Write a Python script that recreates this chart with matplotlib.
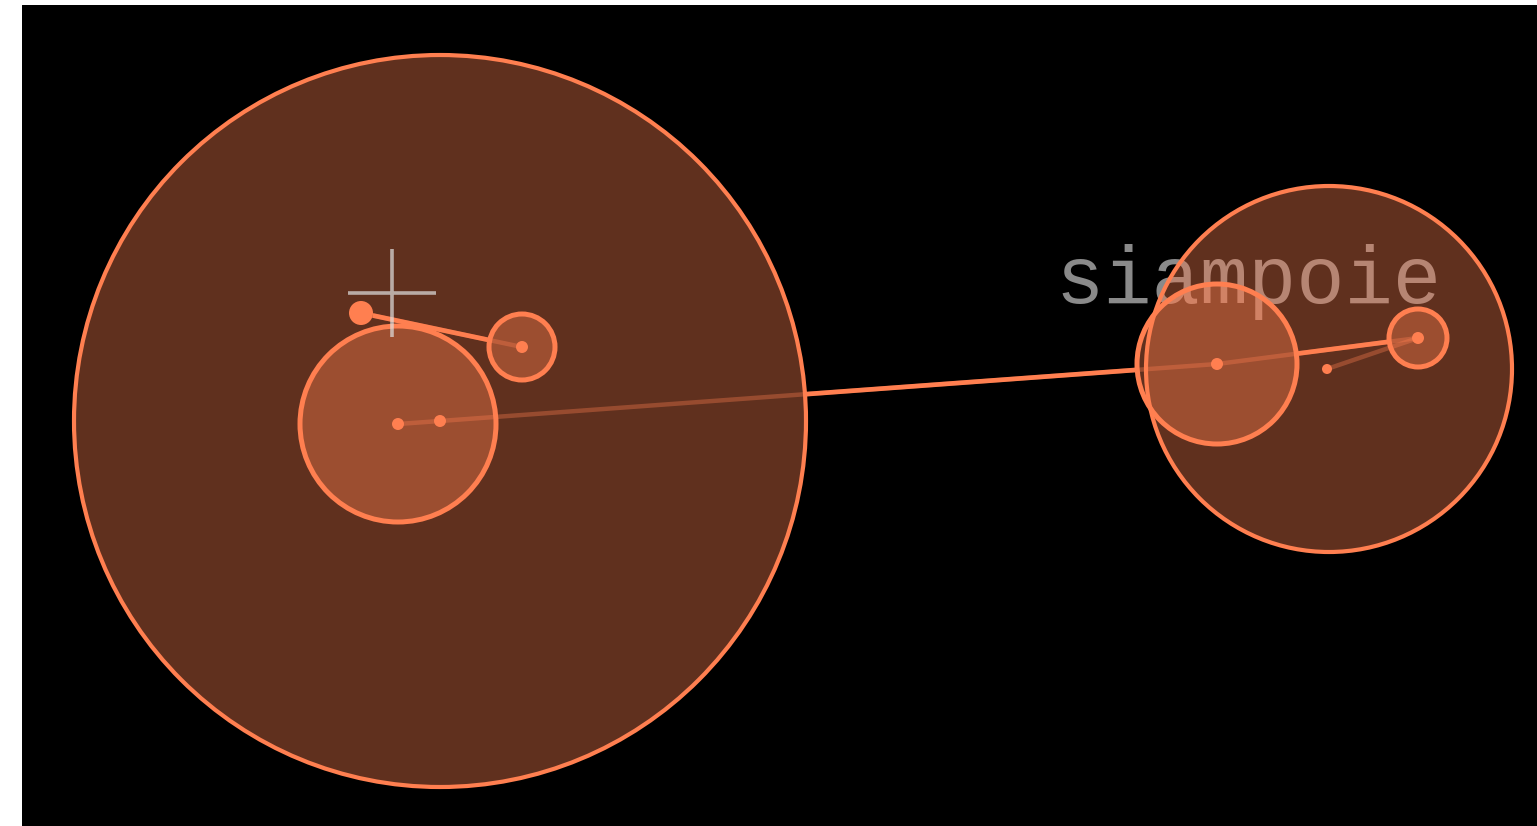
#!/usr/bin/env python3

import numpy as np
import matplotlib.pyplot as plt
from matplotlib.patches import Circle

# nodes of the layout (pixel space of the 1537x826 canvas)
node_names = ["L", "A", "B", "C", "R", "R1", "S", "D"]
node_x = [440, 398, 522, 361, 1329, 1217, 1418, 1327]
node_y = [421, 424, 347, 313, 369, 364, 338, 369]
node_r = [366, 98, 33, 12, 183, 80, 29, 5]
node_kind = ["group", "group", "group", "leaf", "group", "group", "group", "leaf"]
node_depth = [0, 1, 1, 1, 0, 1, 1, 1]
node_center_dot = [True, True, True, False, False, True, True, False]

# links: source, target, strong
link_src = ["L", "A", "C", "R1", "D"]
link_dst = ["R1", "L", "B", "S", "S"]
link_strong = [True, False, True, True, False]

label_text = "siampoie"
label_x = 1055
label_y = 303

cross_x = 392
cross_y = 293

CORAL = "#ff7f50"


def main():
    fig = plt.figure(figsize=(15.37, 8.26), dpi=100, facecolor="white")
    ax = fig.add_axes([22 / 1537, 0, (1537 - 22) / 1537, (826 - 5) / 826])
    ax.set_facecolor("black")
    ax.set_xlim(22, 1537)
    ax.set_ylim(826, 5)
    ax.set_axis_off()
    ax.add_patch(plt.Rectangle((22, 5), 1515, 821, color="black", zorder=0))

    idx = {n: i for i, n in enumerate(node_names)}

    # label sits under the circle fills
    ax.text(label_x, label_y, label_text, family=["Liberation Mono", "DejaVu Sans Mono"],
            fontsize=58, color="#8a8a8a", ha="left", va="baseline", zorder=1)

    # circles
    for i in range(len(node_names)):
        z = 2 + node_depth[i] * 3
        if node_kind[i] == "group":
            lw = 3.0 if node_depth[i] == 0 else 3.6
            ax.add_patch(Circle((node_x[i], node_y[i]), node_r[i], facecolor=CORAL,
                                alpha=0.38, edgecolor="none", zorder=z))
            ax.add_patch(Circle((node_x[i], node_y[i]), node_r[i], facecolor="none",
                                edgecolor=CORAL, lw=lw, zorder=z + 0.5))
        else:
            ax.add_patch(Circle((node_x[i], node_y[i]), node_r[i], facecolor=CORAL,
                                edgecolor="none", zorder=9))
        if node_center_dot[i]:
            ax.add_patch(Circle((node_x[i], node_y[i]), 6, facecolor=CORAL,
                                edgecolor="none", zorder=9))

    # links: faint centre-to-centre line, bright part between circle rims
    for s, t, strong in zip(link_src, link_dst, link_strong):
        a, b = idx[s], idx[t]
        p1 = np.array([node_x[a], node_y[a]], float)
        p2 = np.array([node_x[b], node_y[b]], float)
        ax.plot([p1[0], p2[0]], [p1[1], p2[1]], color=CORAL, alpha=0.35, lw=3.2,
                solid_capstyle="butt", zorder=4)
        d = np.linalg.norm(p2 - p1)
        if strong and d > node_r[a] + node_r[b]:
            u = (p2 - p1) / d
            q1 = p1 + u * node_r[a]
            q2 = p2 - u * node_r[b]
            z = 3.8 if node_depth[a] == 0 else 4.5
            ax.plot([q1[0], q2[0]], [q1[1], q2[1]], color=CORAL, lw=3.4,
                    solid_capstyle="butt", zorder=z)

    # crosshair cursor
    ax.plot([cross_x], [cross_y], marker="+", markersize=63, markeredgewidth=2.6,
            color="#e0e0e0", alpha=0.7, zorder=10)

    fig.savefig("out.png", dpi=100, facecolor="white")


if __name__ == "__main__":
    main()
